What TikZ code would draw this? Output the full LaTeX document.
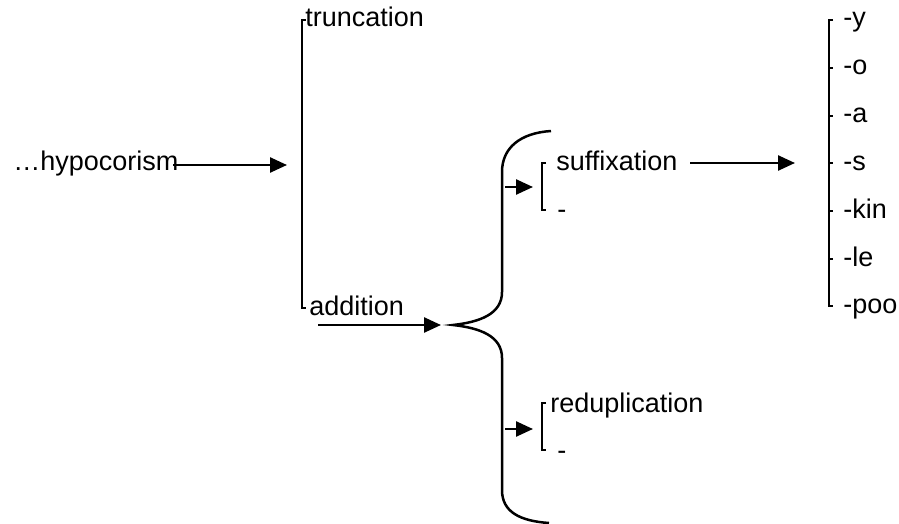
\documentclass[tikz,border=0pt]{standalone}
\usepackage{fontspec}
\setmainfont{Liberation Sans}
\usetikzlibrary{arrows.meta}
\begin{document}
\begin{tikzpicture}[x=0.5pt,y=-0.5pt,
  lbl/.style={anchor=base west,inner sep=0pt,font=\fontsize{13.5}{16}\selectfont},
  ln/.style={line width=1.25pt},
  arr/.style={ln,-{Triangle[length=8.5pt,width=7.5pt]}}]
\useasboundingbox (0,0) rectangle (899,524);

% source term and first arrow
\node[lbl] (hyp) at (13,170) {…hypocorism};
\coordinate (hypout) at (173,165);
\coordinate (hypin) at (287,165);
\draw[arr] (hypout) -- (hypin);

% truncation / addition bracket
\coordinate (trtop) at (302,20);
\coordinate (trbot) at (302,308);
\draw[ln] ([xshift=2]trtop) -- (trtop) -- (trbot) -- ([xshift=2]trbot);
\node[lbl] (trunc) at (305,27) {truncation};
\node[lbl] (add) at (309,315) {addition};

% arrow into the brace
\coordinate (addout) at (318,325);
\coordinate (addin) at (441,325);
\draw[arr] (addout) -- (addin);

% curly brace
\coordinate (bt) at (551,131);
\coordinate (bm) at (453,325);
\coordinate (bb) at (549,523);
\draw[ln] (bt) .. controls (520,133) and (502,148) .. (502,172)
  -- (502,292) .. controls (502,314) and (480,322) .. (bm)
  .. controls (480,328) and (502,336) .. (502,358)
  -- (502,490) .. controls (502,512) and (520,521) .. (bb);

% suffixation branch
\coordinate (sfout) at (505,187);
\coordinate (sfin) at (533,187);
\draw[arr] (sfout) -- (sfin);
\coordinate (sftop) at (542,163);
\coordinate (sfbot) at (542,210);
\draw[ln] ([xshift=2]sftop) -- (sftop) -- (sfbot) -- ([xshift=2]sfbot);
\node[lbl] (suff) at (556,170) {suffixation};
\node[lbl] (sfdash) at (557,218) {-};

% reduplication branch
\coordinate (rdout) at (505,429);
\coordinate (rdin) at (533,429);
\draw[arr] (rdout) -- (rdin);
\coordinate (rdtop) at (542,403);
\coordinate (rdbot) at (542,450);
\draw[ln] ([xshift=2]rdtop) -- (rdtop) -- (rdbot) -- ([xshift=2]rdbot);
\node[lbl] (redup) at (550,412) {reduplication};
\node[lbl] (rddash) at (557,459) {-};

% arrow to the suffix list
\coordinate (lsout) at (690,163);
\coordinate (lsin) at (795,163);
\draw[arr] (lsout) -- (lsin);

% suffix list with its bracket
\coordinate (ltop) at (829,20);
\coordinate (lbot) at (829,306);
\draw[ln] ([xshift=2]ltop) -- (ltop) -- (lbot) -- ([xshift=2]lbot);
\foreach \y in {68,116,163,211,259}
  \draw[ln] (829,\y) -- (833,\y);
\node[lbl] (sy) at (843,27) {-y};
\node[lbl] (so) at (843,75) {-o};
\node[lbl] (sa) at (843,123) {-a};
\node[lbl] (ss) at (843,170) {-s};
\node[lbl] (skin) at (843,218) {-kin};
\node[lbl] (sle) at (843,266) {-le};
\node[lbl] (spoo) at (843,313) {-poo};
\end{tikzpicture}
\end{document}
